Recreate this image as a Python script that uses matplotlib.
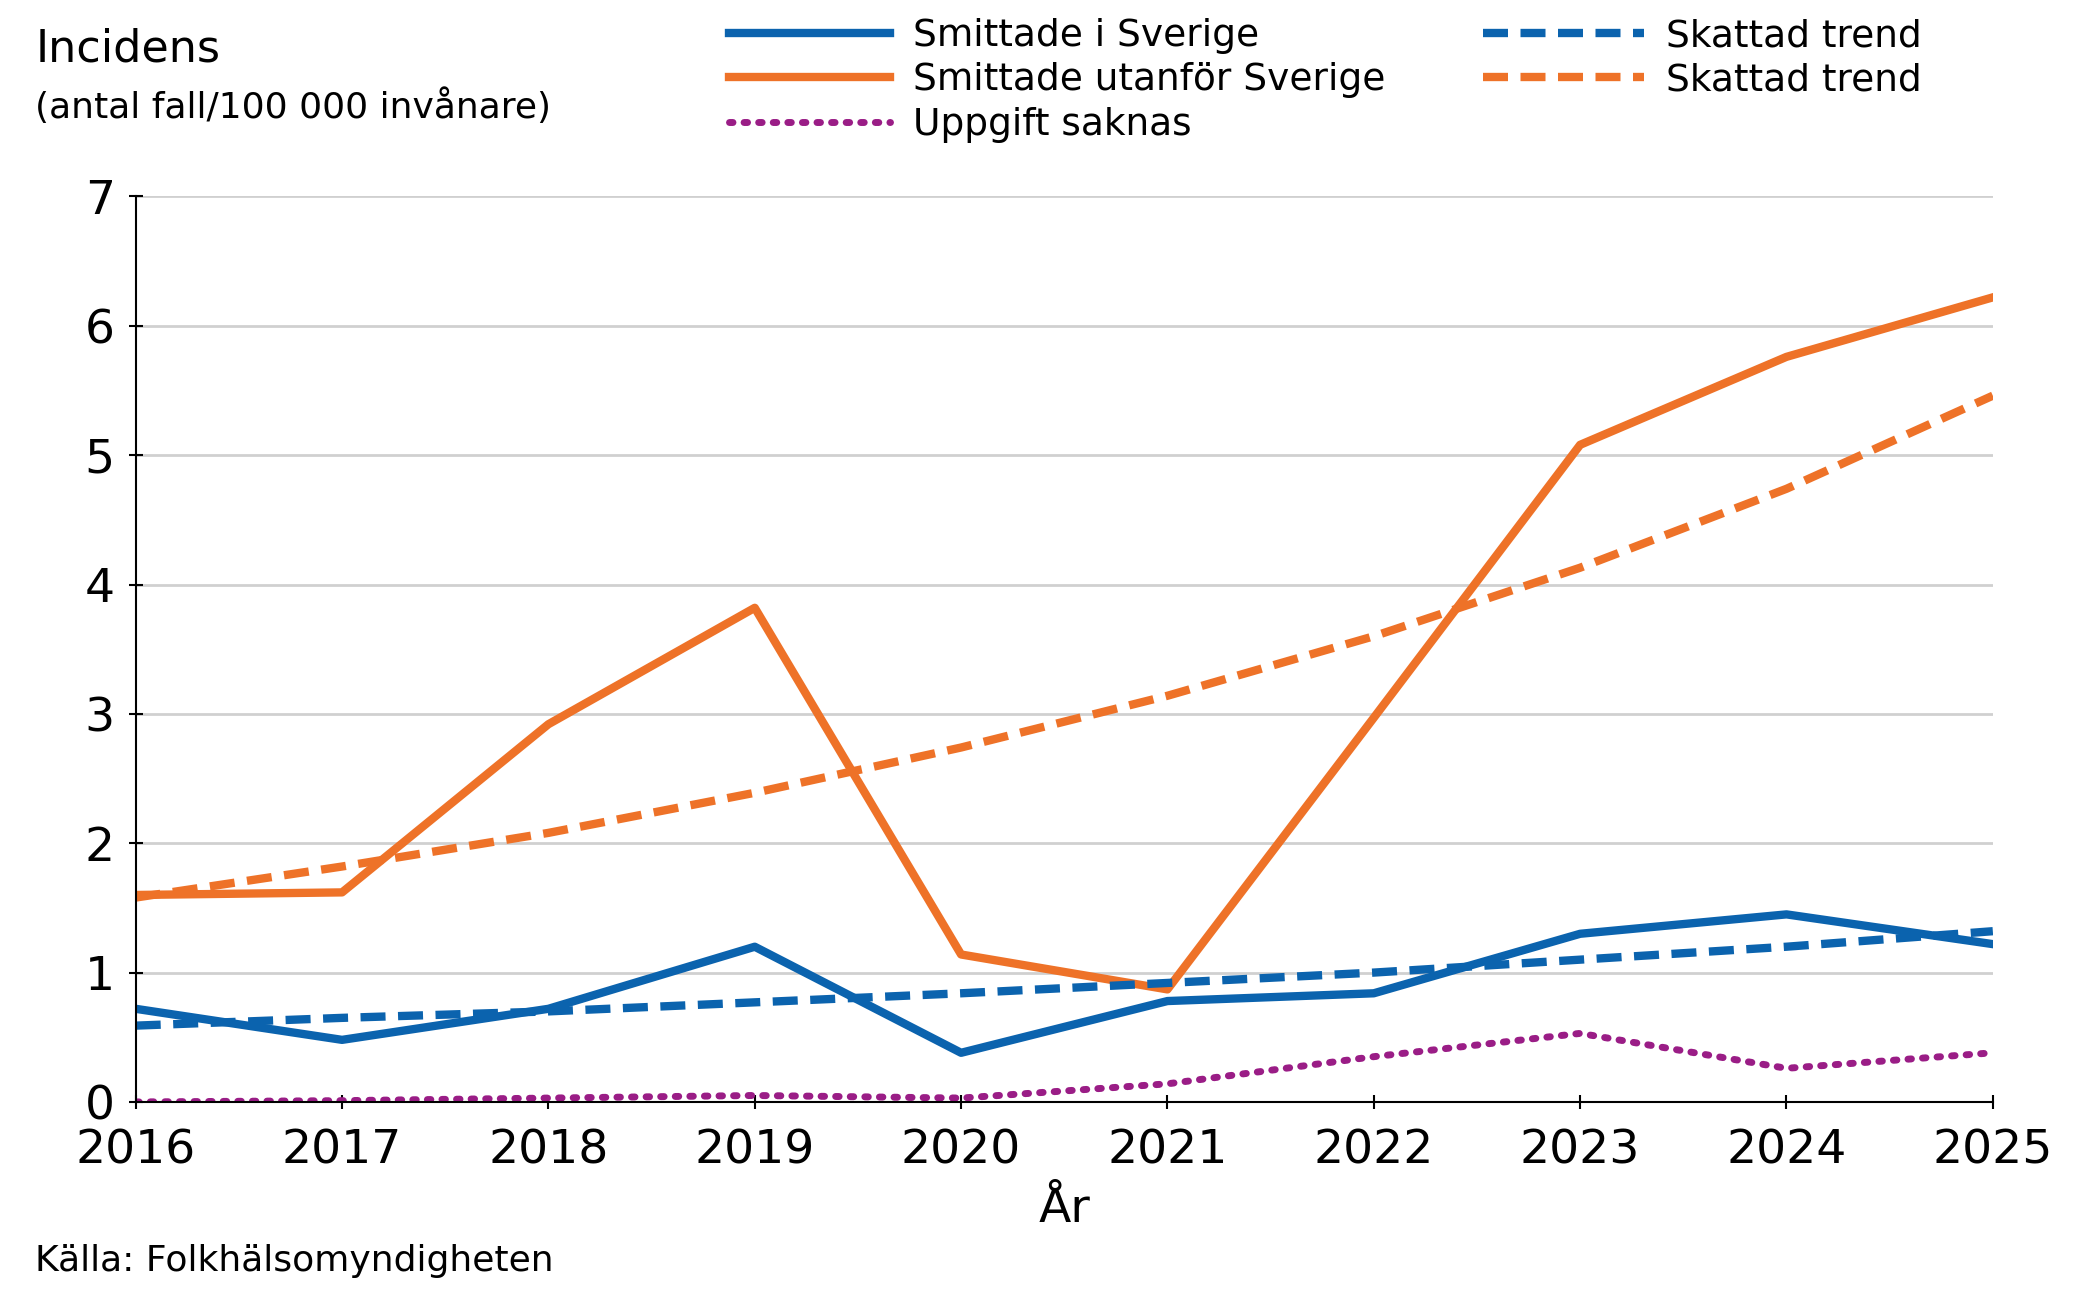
import matplotlib
matplotlib.use("Agg")
import matplotlib.pyplot as plt

years = [2016, 2017, 2018, 2019, 2020, 2021, 2022, 2023, 2024, 2025]
inland = [0.72, 0.48, 0.72, 1.20, 0.38, 0.78, 0.84, 1.30, 1.45, 1.22]
abroad = [1.60, 1.62, 2.92, 3.82, 1.14, 0.87, 2.97, 5.08, 5.76, 6.22]
trend_inland = [0.59, 0.65, 0.70, 0.77, 0.84, 0.92, 1.00, 1.10, 1.20, 1.32]
trend_abroad = [1.58, 1.82, 2.08, 2.39, 2.74, 3.14, 3.60, 4.13, 4.74, 5.46]
unknown = [0.00, 0.01, 0.03, 0.05, 0.03, 0.14, 0.35, 0.53, 0.26, 0.38]

blue = "#0B63AE"
orange = "#EE7228"
purple = "#9A1D86"

plt.rcParams['font.family'] = ['Verdana', 'DejaVu Sans']
fig = plt.figure(figsize=(20.75, 13.01), dpi=100)
ax = fig.add_axes([0.0654, 0.153, 0.8996 - 0.0046, 0.696])

h1, = ax.plot(years, inland, color=blue, lw=6, label="Smittade i Sverige")
h2, = ax.plot(years, abroad, color=orange, lw=6, label="Smittade utanför Sverige")
h3, = ax.plot(years, unknown, color=purple, lw=5, linestyle=(0, (0.5, 1.6)), dash_capstyle='round', label="Uppgift saknas")
h4, = ax.plot(years, trend_inland, color=blue, lw=6, linestyle=(0, (3, 1.5)), label="Skattad trend")
h5, = ax.plot(years, trend_abroad, color=orange, lw=6, linestyle=(0, (3, 1.5)), label="Skattad trend")

ax.set_xlim(2016, 2025)
ax.set_ylim(0, 7)
ax.set_xticks(years)
ax.set_yticks(range(8))
ax.grid(axis='y', color='#d0d0d0', lw=2)
ax.set_axisbelow(True)
for s in ['top', 'right']:
    ax.spines[s].set_visible(False)
ax.spines['left'].set_linewidth(1.5)
ax.spines['bottom'].set_linewidth(1.5)
ax.tick_params(labelsize=34, length=10, width=1.5, direction='inout')
ax.tick_params(axis='x', pad=14)
ax.tick_params(axis='y', pad=10)
ax.set_xlabel("År", fontsize=34, labelpad=10)

fig.text(0.017, 0.962, "Incidens", fontsize=32, va='center')
fig.text(0.017, 0.918, "(antal fall/100 000 invånare)", fontsize=26, va='center')
fig.text(0.017, 0.018, "Källa: Folkhälsomyndigheten", fontsize=26, va='bottom')

fig.legend(handles=[h1, h2, h3, h4, h5], ncol=2, loc='upper left',
           bbox_to_anchor=(0.335, 1.012), frameon=False, fontsize=27,
           handlelength=4.3, columnspacing=2.6, labelspacing=0.22, handletextpad=0.6)

fig.savefig("out.png", dpi=100)
